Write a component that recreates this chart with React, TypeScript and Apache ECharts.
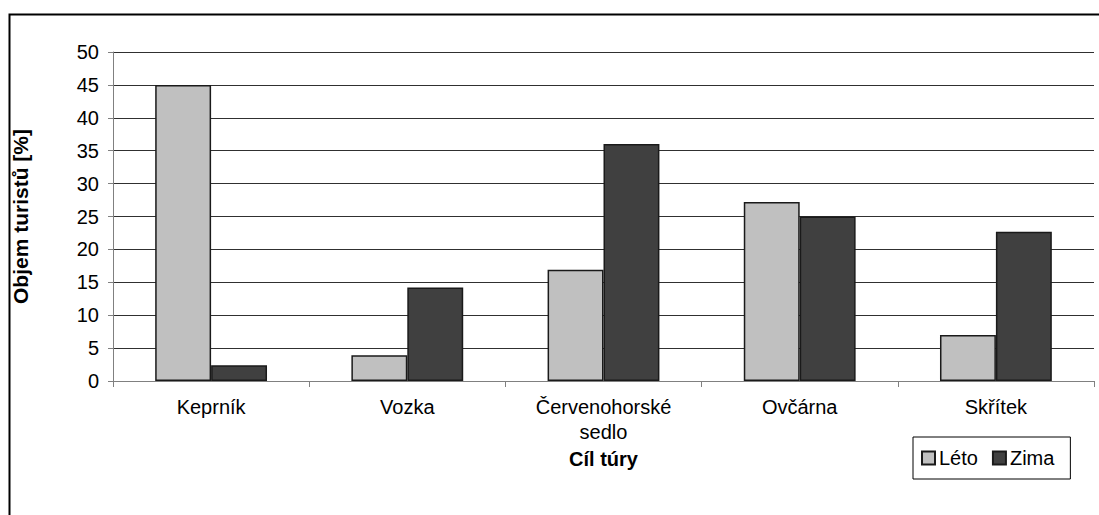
import React, { useEffect, useRef } from "react";
import * as echarts from "echarts";

const categories = ["Keprník", "Vozka", "Červenohorské\nsedlo", "Ovčárna", "Skřítek"];
const leto = [45, 3.9, 16.9, 27.2, 7];
const zima = [2.4, 14.2, 36, 25, 22.7];
const seriesNames = ["Léto", "Zima"];
const yTitle = "Objem turistů [%]";
const xTitle = "Cíl túry";

const FONT = "'Liberation Sans', Arial, sans-serif";

export default function App() {
  const ref = useRef<HTMLDivElement>(null);
  useEffect(() => {
    if (!ref.current) return;
    const chart = echarts.init(ref.current, undefined, { renderer: "svg" });
    chart.setOption({
      animation: false,
      backgroundColor: "#ffffff",
      textStyle: { fontFamily: FONT },
      grid: { left: 113, right: 5, top: 52, bottom: 134, containLabel: false },
      legend: {
        data: seriesNames,
        left: 913,
        top: 437,
        itemWidth: 13,
        itemHeight: 13,
        itemGap: 14,
        padding: [11, 16, 11, 8],
        borderColor: "#000",
        borderWidth: 1,
        backgroundColor: "#fff",
        icon: "rect",
        textStyle: { fontFamily: FONT, fontSize: 20, color: "#000", padding: [0, 0, 0, -1] },
      },
      xAxis: {
        type: "category",
        data: categories,
        name: xTitle,
        nameLocation: "middle",
        nameGap: 63,
        nameTextStyle: { fontFamily: FONT, fontSize: 20, fontWeight: "bold", color: "#000" },
        axisLine: { show: true, lineStyle: { color: "#808080", width: 1 } },
        axisTick: { show: true, length: 6, lineStyle: { color: "#808080" } },
        axisLabel: { fontFamily: FONT, fontSize: 20, color: "#000", margin: 13, lineHeight: 25 },
      },
      yAxis: {
        type: "value",
        min: 0,
        max: 50,
        interval: 5,
        name: yTitle,
        nameLocation: "middle",
        nameGap: 82,
        nameRotate: 90,
        nameTextStyle: { fontFamily: FONT, fontSize: 21, fontWeight: "bold", color: "#000" },
        axisLine: { show: true, lineStyle: { color: "#808080", width: 1 } },
        axisTick: { show: true, length: 5, lineStyle: { color: "#808080" } },
        axisLabel: { fontFamily: FONT, fontSize: 20, color: "#000", margin: 14 },
        splitLine: { show: true, lineStyle: { color: "#303030", width: 1 } },
      },
      series: [
        {
          name: seriesNames[0],
          type: "bar",
          data: leto,
          barGap: "0%",
          barCategoryGap: "43%",
          itemStyle: { color: "#c0c0c0", borderColor: "#1a1a1a", borderWidth: 1.5 },
        },
        {
          name: seriesNames[1],
          type: "bar",
          data: zima,
          barGap: "0%",
          barCategoryGap: "43%",
          itemStyle: { color: "#404040", borderColor: "#1a1a1a", borderWidth: 1.5 },
        },
      ],
      graphic: [
        {
          type: "rect",
          left: 7,
          top: 12,
          shape: { width: 1200, height: 600 },
          style: { fill: "none", stroke: "#000", lineWidth: 2 },
          silent: true,
          z: 100,
        },
      ],
    });
    return () => chart.dispose();
  }, []);
  return (
    <div
      ref={ref}
      style={{ position: "fixed", left: 0, top: 0, width: 1099, height: 515 }}
    />
  );
}
